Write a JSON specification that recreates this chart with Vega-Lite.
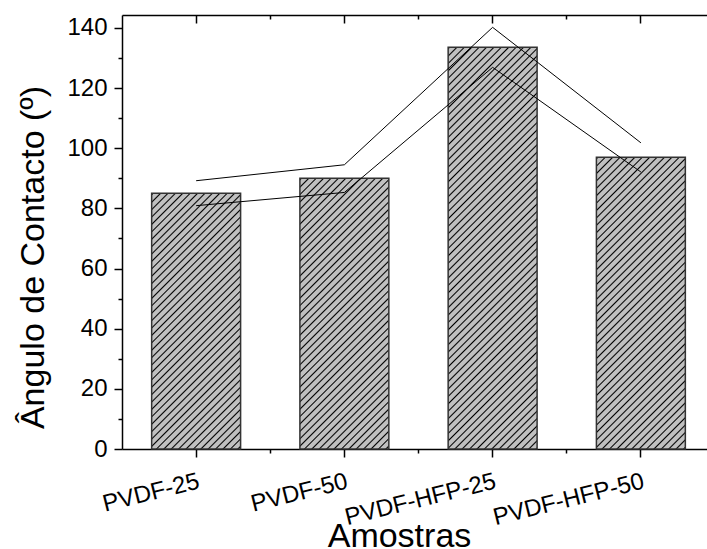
{
"$schema":"https://vega.github.io/schema/vega-lite/v6.json",
"autosize":"none","width":593,"height":434,
"padding":{"left":122,"top":15,"right":0,"bottom":100},
"background":"white",
"config":{"view":{"stroke":null},"axis":{"labelFont":"Liberation Sans","titleFont":"Liberation Sans","labelColor":"#000","titleColor":"#000","tickColor":"#000","domainColor":"#000","grid":false,"titleFontWeight":"normal","domainWidth":1.5,"tickWidth":1.5,"labelFontSize":24,"titleFontSize":34,"labelOverlap":false,"labelLimit":0}},
"data":{"values":[
{"s":"PVDF-25","v":85,"up":89.2,"lo":80.9},
{"s":"PVDF-50","v":90,"up":94.5,"lo":85.3},
{"s":"PVDF-HFP-25","v":133.6,"up":140.2,"lo":126.9},
{"s":"PVDF-HFP-50","v":97,"up":101.8,"lo":92.1}]},
"resolve":{"axis":{"x":"independent","y":"independent"}},
"layer":[
{"mark":{"type":"bar","stroke":"#333","strokeWidth":1.5},
"encoding":{
"x":{"field":"s","type":"nominal","sort":null,"scale":{"type":"band","paddingInner":0.4,"paddingOuter":0.2},
"axis":{"orient":"bottom","title":"Amostras","bandPosition":0.5,"labelAngle":-14,"labelAlign":"right","labelBaseline":"top","labelPadding":12,"tickSize":8,"titleX":277,"titleY":97,"titleBaseline":"alphabetic","titleAlign":"center","titleAnchor":null}},
"y":{"field":"v","type":"quantitative","scale":{"domain":[0,144.3],"nice":false},
"axis":{"orient":"left","values":[0,20,40,60,80,100,120,140],"title":"Ângulo de Contacto (º)","labelPadding":7,"tickSize":8,"titleAngle":-90,"titleX":-78.7,"titleY":242,"titleBaseline":"alphabetic","titleAlign":"center","titleAnchor":null}},
"fill":{"condition":[
{"test":"datum.s==='PVDF-25'","value":{"gradient":"linear","x1":0,"y1":0,"x2":0.8984,"y2":2.582,"stops":[
{"offset":0,"color":"silver"},{"offset":0.002,"color":"#000"},{"offset":0.004,"color":"silver"},
{"offset":0.01,"color":"silver"},{"offset":0.012,"color":"#000"},{"offset":0.014,"color":"silver"},
{"offset":0.02,"color":"silver"},{"offset":0.022,"color":"#000"},{"offset":0.024,"color":"silver"},
{"offset":0.03,"color":"silver"},{"offset":0.032,"color":"#000"},{"offset":0.034,"color":"silver"},
{"offset":0.04,"color":"silver"},{"offset":0.042,"color":"#000"},{"offset":0.044,"color":"silver"},
{"offset":0.05,"color":"silver"},{"offset":0.052,"color":"#000"},{"offset":0.054,"color":"silver"},
{"offset":0.06,"color":"silver"},{"offset":0.062,"color":"#000"},{"offset":0.064,"color":"silver"},
{"offset":0.07,"color":"silver"},{"offset":0.072,"color":"#000"},{"offset":0.074,"color":"silver"},
{"offset":0.08,"color":"silver"},{"offset":0.082,"color":"#000"},{"offset":0.084,"color":"silver"},
{"offset":0.09,"color":"silver"},{"offset":0.092,"color":"#000"},{"offset":0.094,"color":"silver"},
{"offset":0.1,"color":"silver"},{"offset":0.102,"color":"#000"},{"offset":0.104,"color":"silver"},
{"offset":0.11,"color":"silver"},{"offset":0.112,"color":"#000"},{"offset":0.114,"color":"silver"},
{"offset":0.12,"color":"silver"},{"offset":0.122,"color":"#000"},{"offset":0.124,"color":"silver"},
{"offset":0.13,"color":"silver"},{"offset":0.132,"color":"#000"},{"offset":0.134,"color":"silver"},
{"offset":0.14,"color":"silver"},{"offset":0.142,"color":"#000"},{"offset":0.144,"color":"silver"},
{"offset":0.15,"color":"silver"},{"offset":0.152,"color":"#000"},{"offset":0.154,"color":"silver"},
{"offset":0.16,"color":"silver"},{"offset":0.162,"color":"#000"},{"offset":0.164,"color":"silver"},
{"offset":0.17,"color":"silver"},{"offset":0.172,"color":"#000"},{"offset":0.174,"color":"silver"},
{"offset":0.18,"color":"silver"},{"offset":0.182,"color":"#000"},{"offset":0.184,"color":"silver"},
{"offset":0.19,"color":"silver"},{"offset":0.192,"color":"#000"},{"offset":0.194,"color":"silver"},
{"offset":0.2,"color":"silver"},{"offset":0.202,"color":"#000"},{"offset":0.204,"color":"silver"},
{"offset":0.21,"color":"silver"},{"offset":0.212,"color":"#000"},{"offset":0.214,"color":"silver"},
{"offset":0.22,"color":"silver"},{"offset":0.222,"color":"#000"},{"offset":0.224,"color":"silver"},
{"offset":0.23,"color":"silver"},{"offset":0.232,"color":"#000"},{"offset":0.234,"color":"silver"},
{"offset":0.24,"color":"silver"},{"offset":0.242,"color":"#000"},{"offset":0.244,"color":"silver"},
{"offset":0.25,"color":"silver"},{"offset":0.252,"color":"#000"},{"offset":0.254,"color":"silver"},
{"offset":0.26,"color":"silver"},{"offset":0.262,"color":"#000"},{"offset":0.264,"color":"silver"},
{"offset":0.27,"color":"silver"},{"offset":0.272,"color":"#000"},{"offset":0.274,"color":"silver"},
{"offset":0.28,"color":"silver"},{"offset":0.282,"color":"#000"},{"offset":0.284,"color":"silver"},
{"offset":0.29,"color":"silver"},{"offset":0.292,"color":"#000"},{"offset":0.294,"color":"silver"},
{"offset":0.3,"color":"silver"},{"offset":0.302,"color":"#000"},{"offset":0.304,"color":"silver"},
{"offset":0.31,"color":"silver"},{"offset":0.312,"color":"#000"},{"offset":0.314,"color":"silver"},
{"offset":0.32,"color":"silver"},{"offset":0.322,"color":"#000"},{"offset":0.324,"color":"silver"},
{"offset":0.33,"color":"silver"},{"offset":0.332,"color":"#000"},{"offset":0.334,"color":"silver"},
{"offset":0.34,"color":"silver"},{"offset":0.342,"color":"#000"},{"offset":0.344,"color":"silver"},
{"offset":0.35,"color":"silver"},{"offset":0.352,"color":"#000"},{"offset":0.354,"color":"silver"},
{"offset":0.36,"color":"silver"},{"offset":0.362,"color":"#000"},{"offset":0.364,"color":"silver"},
{"offset":0.37,"color":"silver"},{"offset":0.372,"color":"#000"},{"offset":0.374,"color":"silver"},
{"offset":0.38,"color":"silver"},{"offset":0.382,"color":"#000"},{"offset":0.384,"color":"silver"},
{"offset":0.39,"color":"silver"},{"offset":0.392,"color":"#000"},{"offset":0.394,"color":"silver"},
{"offset":0.4,"color":"silver"},{"offset":0.402,"color":"#000"},{"offset":0.404,"color":"silver"},
{"offset":0.41,"color":"silver"},{"offset":0.412,"color":"#000"},{"offset":0.414,"color":"silver"},
{"offset":0.42,"color":"silver"},{"offset":0.422,"color":"#000"},{"offset":0.424,"color":"silver"},
{"offset":0.43,"color":"silver"},{"offset":0.432,"color":"#000"},{"offset":0.434,"color":"silver"},
{"offset":0.44,"color":"silver"},{"offset":0.442,"color":"#000"},{"offset":0.444,"color":"silver"},
{"offset":0.45,"color":"silver"},{"offset":0.452,"color":"#000"},{"offset":0.454,"color":"silver"},
{"offset":0.46,"color":"silver"},{"offset":0.462,"color":"#000"},{"offset":0.464,"color":"silver"}]}},
{"test":"datum.s==='PVDF-50'","value":{"gradient":"linear","x1":0,"y1":0,"x2":0.8108,"y2":2.4673,"stops":[
{"offset":0,"color":"silver"},{"offset":0.002,"color":"#000"},{"offset":0.004,"color":"silver"},
{"offset":0.01,"color":"silver"},{"offset":0.012,"color":"#000"},{"offset":0.014,"color":"silver"},
{"offset":0.02,"color":"silver"},{"offset":0.022,"color":"#000"},{"offset":0.024,"color":"silver"},
{"offset":0.03,"color":"silver"},{"offset":0.032,"color":"#000"},{"offset":0.034,"color":"silver"},
{"offset":0.04,"color":"silver"},{"offset":0.042,"color":"#000"},{"offset":0.044,"color":"silver"},
{"offset":0.05,"color":"silver"},{"offset":0.052,"color":"#000"},{"offset":0.054,"color":"silver"},
{"offset":0.06,"color":"silver"},{"offset":0.062,"color":"#000"},{"offset":0.064,"color":"silver"},
{"offset":0.07,"color":"silver"},{"offset":0.072,"color":"#000"},{"offset":0.074,"color":"silver"},
{"offset":0.08,"color":"silver"},{"offset":0.082,"color":"#000"},{"offset":0.084,"color":"silver"},
{"offset":0.09,"color":"silver"},{"offset":0.092,"color":"#000"},{"offset":0.094,"color":"silver"},
{"offset":0.1,"color":"silver"},{"offset":0.102,"color":"#000"},{"offset":0.104,"color":"silver"},
{"offset":0.11,"color":"silver"},{"offset":0.112,"color":"#000"},{"offset":0.114,"color":"silver"},
{"offset":0.12,"color":"silver"},{"offset":0.122,"color":"#000"},{"offset":0.124,"color":"silver"},
{"offset":0.13,"color":"silver"},{"offset":0.132,"color":"#000"},{"offset":0.134,"color":"silver"},
{"offset":0.14,"color":"silver"},{"offset":0.142,"color":"#000"},{"offset":0.144,"color":"silver"},
{"offset":0.15,"color":"silver"},{"offset":0.152,"color":"#000"},{"offset":0.154,"color":"silver"},
{"offset":0.16,"color":"silver"},{"offset":0.162,"color":"#000"},{"offset":0.164,"color":"silver"},
{"offset":0.17,"color":"silver"},{"offset":0.172,"color":"#000"},{"offset":0.174,"color":"silver"},
{"offset":0.18,"color":"silver"},{"offset":0.182,"color":"#000"},{"offset":0.184,"color":"silver"},
{"offset":0.19,"color":"silver"},{"offset":0.192,"color":"#000"},{"offset":0.194,"color":"silver"},
{"offset":0.2,"color":"silver"},{"offset":0.202,"color":"#000"},{"offset":0.204,"color":"silver"},
{"offset":0.21,"color":"silver"},{"offset":0.212,"color":"#000"},{"offset":0.214,"color":"silver"},
{"offset":0.22,"color":"silver"},{"offset":0.222,"color":"#000"},{"offset":0.224,"color":"silver"},
{"offset":0.23,"color":"silver"},{"offset":0.232,"color":"#000"},{"offset":0.234,"color":"silver"},
{"offset":0.24,"color":"silver"},{"offset":0.242,"color":"#000"},{"offset":0.244,"color":"silver"},
{"offset":0.25,"color":"silver"},{"offset":0.252,"color":"#000"},{"offset":0.254,"color":"silver"},
{"offset":0.26,"color":"silver"},{"offset":0.262,"color":"#000"},{"offset":0.264,"color":"silver"},
{"offset":0.27,"color":"silver"},{"offset":0.272,"color":"#000"},{"offset":0.274,"color":"silver"},
{"offset":0.28,"color":"silver"},{"offset":0.282,"color":"#000"},{"offset":0.284,"color":"silver"},
{"offset":0.29,"color":"silver"},{"offset":0.292,"color":"#000"},{"offset":0.294,"color":"silver"},
{"offset":0.3,"color":"silver"},{"offset":0.302,"color":"#000"},{"offset":0.304,"color":"silver"},
{"offset":0.31,"color":"silver"},{"offset":0.312,"color":"#000"},{"offset":0.314,"color":"silver"},
{"offset":0.32,"color":"silver"},{"offset":0.322,"color":"#000"},{"offset":0.324,"color":"silver"},
{"offset":0.33,"color":"silver"},{"offset":0.332,"color":"#000"},{"offset":0.334,"color":"silver"},
{"offset":0.34,"color":"silver"},{"offset":0.342,"color":"#000"},{"offset":0.344,"color":"silver"},
{"offset":0.35,"color":"silver"},{"offset":0.352,"color":"#000"},{"offset":0.354,"color":"silver"},
{"offset":0.36,"color":"silver"},{"offset":0.362,"color":"#000"},{"offset":0.364,"color":"silver"},
{"offset":0.37,"color":"silver"},{"offset":0.372,"color":"#000"},{"offset":0.374,"color":"silver"},
{"offset":0.38,"color":"silver"},{"offset":0.382,"color":"#000"},{"offset":0.384,"color":"silver"},
{"offset":0.39,"color":"silver"},{"offset":0.392,"color":"#000"},{"offset":0.394,"color":"silver"},
{"offset":0.4,"color":"silver"},{"offset":0.402,"color":"#000"},{"offset":0.404,"color":"silver"},
{"offset":0.41,"color":"silver"},{"offset":0.412,"color":"#000"},{"offset":0.414,"color":"silver"},
{"offset":0.42,"color":"silver"},{"offset":0.422,"color":"#000"},{"offset":0.424,"color":"silver"},
{"offset":0.43,"color":"silver"},{"offset":0.432,"color":"#000"},{"offset":0.434,"color":"silver"},
{"offset":0.44,"color":"silver"},{"offset":0.442,"color":"#000"},{"offset":0.444,"color":"silver"},
{"offset":0.45,"color":"silver"},{"offset":0.452,"color":"#000"},{"offset":0.454,"color":"silver"},
{"offset":0.46,"color":"silver"},{"offset":0.462,"color":"#000"},{"offset":0.464,"color":"silver"},
{"offset":0.47,"color":"silver"},{"offset":0.472,"color":"#000"},{"offset":0.474,"color":"silver"},
{"offset":0.48,"color":"silver"},{"offset":0.482,"color":"#000"},{"offset":0.484,"color":"silver"}]}},
{"test":"datum.s==='PVDF-HFP-25'","value":{"gradient":"linear","x1":0,"y1":0,"x2":0.3886,"y2":1.7556,"stops":[
{"offset":0,"color":"silver"},{"offset":0.002,"color":"#000"},{"offset":0.004,"color":"silver"},
{"offset":0.01,"color":"silver"},{"offset":0.012,"color":"#000"},{"offset":0.014,"color":"silver"},
{"offset":0.02,"color":"silver"},{"offset":0.022,"color":"#000"},{"offset":0.024,"color":"silver"},
{"offset":0.03,"color":"silver"},{"offset":0.032,"color":"#000"},{"offset":0.034,"color":"silver"},
{"offset":0.04,"color":"silver"},{"offset":0.042,"color":"#000"},{"offset":0.044,"color":"silver"},
{"offset":0.05,"color":"silver"},{"offset":0.052,"color":"#000"},{"offset":0.054,"color":"silver"},
{"offset":0.06,"color":"silver"},{"offset":0.062,"color":"#000"},{"offset":0.064,"color":"silver"},
{"offset":0.07,"color":"silver"},{"offset":0.072,"color":"#000"},{"offset":0.074,"color":"silver"},
{"offset":0.08,"color":"silver"},{"offset":0.082,"color":"#000"},{"offset":0.084,"color":"silver"},
{"offset":0.09,"color":"silver"},{"offset":0.092,"color":"#000"},{"offset":0.094,"color":"silver"},
{"offset":0.1,"color":"silver"},{"offset":0.102,"color":"#000"},{"offset":0.104,"color":"silver"},
{"offset":0.11,"color":"silver"},{"offset":0.112,"color":"#000"},{"offset":0.114,"color":"silver"},
{"offset":0.12,"color":"silver"},{"offset":0.122,"color":"#000"},{"offset":0.124,"color":"silver"},
{"offset":0.13,"color":"silver"},{"offset":0.132,"color":"#000"},{"offset":0.134,"color":"silver"},
{"offset":0.14,"color":"silver"},{"offset":0.142,"color":"#000"},{"offset":0.144,"color":"silver"},
{"offset":0.15,"color":"silver"},{"offset":0.152,"color":"#000"},{"offset":0.154,"color":"silver"},
{"offset":0.16,"color":"silver"},{"offset":0.162,"color":"#000"},{"offset":0.164,"color":"silver"},
{"offset":0.17,"color":"silver"},{"offset":0.172,"color":"#000"},{"offset":0.174,"color":"silver"},
{"offset":0.18,"color":"silver"},{"offset":0.182,"color":"#000"},{"offset":0.184,"color":"silver"},
{"offset":0.19,"color":"silver"},{"offset":0.192,"color":"#000"},{"offset":0.194,"color":"silver"},
{"offset":0.2,"color":"silver"},{"offset":0.202,"color":"#000"},{"offset":0.204,"color":"silver"},
{"offset":0.21,"color":"silver"},{"offset":0.212,"color":"#000"},{"offset":0.214,"color":"silver"},
{"offset":0.22,"color":"silver"},{"offset":0.222,"color":"#000"},{"offset":0.224,"color":"silver"},
{"offset":0.23,"color":"silver"},{"offset":0.232,"color":"#000"},{"offset":0.234,"color":"silver"},
{"offset":0.24,"color":"silver"},{"offset":0.242,"color":"#000"},{"offset":0.244,"color":"silver"},
{"offset":0.25,"color":"silver"},{"offset":0.252,"color":"#000"},{"offset":0.254,"color":"silver"},
{"offset":0.26,"color":"silver"},{"offset":0.262,"color":"#000"},{"offset":0.264,"color":"silver"},
{"offset":0.27,"color":"silver"},{"offset":0.272,"color":"#000"},{"offset":0.274,"color":"silver"},
{"offset":0.28,"color":"silver"},{"offset":0.282,"color":"#000"},{"offset":0.284,"color":"silver"},
{"offset":0.29,"color":"silver"},{"offset":0.292,"color":"#000"},{"offset":0.294,"color":"silver"},
{"offset":0.3,"color":"silver"},{"offset":0.302,"color":"#000"},{"offset":0.304,"color":"silver"},
{"offset":0.31,"color":"silver"},{"offset":0.312,"color":"#000"},{"offset":0.314,"color":"silver"},
{"offset":0.32,"color":"silver"},{"offset":0.322,"color":"#000"},{"offset":0.324,"color":"silver"},
{"offset":0.33,"color":"silver"},{"offset":0.332,"color":"#000"},{"offset":0.334,"color":"silver"},
{"offset":0.34,"color":"silver"},{"offset":0.342,"color":"#000"},{"offset":0.344,"color":"silver"},
{"offset":0.35,"color":"silver"},{"offset":0.352,"color":"#000"},{"offset":0.354,"color":"silver"},
{"offset":0.36,"color":"silver"},{"offset":0.362,"color":"#000"},{"offset":0.364,"color":"silver"},
{"offset":0.37,"color":"silver"},{"offset":0.372,"color":"#000"},{"offset":0.374,"color":"silver"},
{"offset":0.38,"color":"silver"},{"offset":0.382,"color":"#000"},{"offset":0.384,"color":"silver"},
{"offset":0.39,"color":"silver"},{"offset":0.392,"color":"#000"},{"offset":0.394,"color":"silver"},
{"offset":0.4,"color":"silver"},{"offset":0.402,"color":"#000"},{"offset":0.404,"color":"silver"},
{"offset":0.41,"color":"silver"},{"offset":0.412,"color":"#000"},{"offset":0.414,"color":"silver"},
{"offset":0.42,"color":"silver"},{"offset":0.422,"color":"#000"},{"offset":0.424,"color":"silver"},
{"offset":0.43,"color":"silver"},{"offset":0.432,"color":"#000"},{"offset":0.434,"color":"silver"},
{"offset":0.44,"color":"silver"},{"offset":0.442,"color":"#000"},{"offset":0.444,"color":"silver"},
{"offset":0.45,"color":"silver"},{"offset":0.452,"color":"#000"},{"offset":0.454,"color":"silver"},
{"offset":0.46,"color":"silver"},{"offset":0.462,"color":"#000"},{"offset":0.464,"color":"silver"},
{"offset":0.47,"color":"silver"},{"offset":0.472,"color":"#000"},{"offset":0.474,"color":"silver"},
{"offset":0.48,"color":"silver"},{"offset":0.482,"color":"#000"},{"offset":0.484,"color":"silver"},
{"offset":0.49,"color":"silver"},{"offset":0.492,"color":"#000"},{"offset":0.494,"color":"silver"},
{"offset":0.5,"color":"silver"},{"offset":0.502,"color":"#000"},{"offset":0.504,"color":"silver"},
{"offset":0.51,"color":"silver"},{"offset":0.512,"color":"#000"},{"offset":0.514,"color":"silver"},
{"offset":0.52,"color":"silver"},{"offset":0.522,"color":"#000"},{"offset":0.524,"color":"silver"},
{"offset":0.53,"color":"silver"},{"offset":0.532,"color":"#000"},{"offset":0.534,"color":"silver"},
{"offset":0.54,"color":"silver"},{"offset":0.542,"color":"#000"},{"offset":0.544,"color":"silver"},
{"offset":0.55,"color":"silver"},{"offset":0.552,"color":"#000"},{"offset":0.554,"color":"silver"},
{"offset":0.56,"color":"silver"},{"offset":0.562,"color":"#000"},{"offset":0.564,"color":"silver"},
{"offset":0.57,"color":"silver"},{"offset":0.572,"color":"#000"},{"offset":0.574,"color":"silver"},
{"offset":0.58,"color":"silver"},{"offset":0.582,"color":"#000"},{"offset":0.584,"color":"silver"},
{"offset":0.59,"color":"silver"},{"offset":0.592,"color":"#000"},{"offset":0.594,"color":"silver"},
{"offset":0.6,"color":"silver"},{"offset":0.602,"color":"#000"},{"offset":0.604,"color":"silver"},
{"offset":0.61,"color":"silver"},{"offset":0.612,"color":"#000"},{"offset":0.614,"color":"silver"},
{"offset":0.62,"color":"silver"},{"offset":0.622,"color":"#000"},{"offset":0.624,"color":"silver"},
{"offset":0.63,"color":"silver"},{"offset":0.632,"color":"#000"},{"offset":0.634,"color":"silver"},
{"offset":0.64,"color":"silver"},{"offset":0.642,"color":"#000"},{"offset":0.644,"color":"silver"},
{"offset":0.65,"color":"silver"},{"offset":0.652,"color":"#000"},{"offset":0.654,"color":"silver"},
{"offset":0.66,"color":"silver"},{"offset":0.662,"color":"#000"},{"offset":0.664,"color":"silver"}]}}],
"value":{"gradient":"linear","x1":0,"y1":0,"x2":0.7076,"y2":2.3208,"stops":[
{"offset":0,"color":"silver"},{"offset":0.002,"color":"#000"},{"offset":0.004,"color":"silver"},
{"offset":0.01,"color":"silver"},{"offset":0.012,"color":"#000"},{"offset":0.014,"color":"silver"},
{"offset":0.02,"color":"silver"},{"offset":0.022,"color":"#000"},{"offset":0.024,"color":"silver"},
{"offset":0.03,"color":"silver"},{"offset":0.032,"color":"#000"},{"offset":0.034,"color":"silver"},
{"offset":0.04,"color":"silver"},{"offset":0.042,"color":"#000"},{"offset":0.044,"color":"silver"},
{"offset":0.05,"color":"silver"},{"offset":0.052,"color":"#000"},{"offset":0.054,"color":"silver"},
{"offset":0.06,"color":"silver"},{"offset":0.062,"color":"#000"},{"offset":0.064,"color":"silver"},
{"offset":0.07,"color":"silver"},{"offset":0.072,"color":"#000"},{"offset":0.074,"color":"silver"},
{"offset":0.08,"color":"silver"},{"offset":0.082,"color":"#000"},{"offset":0.084,"color":"silver"},
{"offset":0.09,"color":"silver"},{"offset":0.092,"color":"#000"},{"offset":0.094,"color":"silver"},
{"offset":0.1,"color":"silver"},{"offset":0.102,"color":"#000"},{"offset":0.104,"color":"silver"},
{"offset":0.11,"color":"silver"},{"offset":0.112,"color":"#000"},{"offset":0.114,"color":"silver"},
{"offset":0.12,"color":"silver"},{"offset":0.122,"color":"#000"},{"offset":0.124,"color":"silver"},
{"offset":0.13,"color":"silver"},{"offset":0.132,"color":"#000"},{"offset":0.134,"color":"silver"},
{"offset":0.14,"color":"silver"},{"offset":0.142,"color":"#000"},{"offset":0.144,"color":"silver"},
{"offset":0.15,"color":"silver"},{"offset":0.152,"color":"#000"},{"offset":0.154,"color":"silver"},
{"offset":0.16,"color":"silver"},{"offset":0.162,"color":"#000"},{"offset":0.164,"color":"silver"},
{"offset":0.17,"color":"silver"},{"offset":0.172,"color":"#000"},{"offset":0.174,"color":"silver"},
{"offset":0.18,"color":"silver"},{"offset":0.182,"color":"#000"},{"offset":0.184,"color":"silver"},
{"offset":0.19,"color":"silver"},{"offset":0.192,"color":"#000"},{"offset":0.194,"color":"silver"},
{"offset":0.2,"color":"silver"},{"offset":0.202,"color":"#000"},{"offset":0.204,"color":"silver"},
{"offset":0.21,"color":"silver"},{"offset":0.212,"color":"#000"},{"offset":0.214,"color":"silver"},
{"offset":0.22,"color":"silver"},{"offset":0.222,"color":"#000"},{"offset":0.224,"color":"silver"},
{"offset":0.23,"color":"silver"},{"offset":0.232,"color":"#000"},{"offset":0.234,"color":"silver"},
{"offset":0.24,"color":"silver"},{"offset":0.242,"color":"#000"},{"offset":0.244,"color":"silver"},
{"offset":0.25,"color":"silver"},{"offset":0.252,"color":"#000"},{"offset":0.254,"color":"silver"},
{"offset":0.26,"color":"silver"},{"offset":0.262,"color":"#000"},{"offset":0.264,"color":"silver"},
{"offset":0.27,"color":"silver"},{"offset":0.272,"color":"#000"},{"offset":0.274,"color":"silver"},
{"offset":0.28,"color":"silver"},{"offset":0.282,"color":"#000"},{"offset":0.284,"color":"silver"},
{"offset":0.29,"color":"silver"},{"offset":0.292,"color":"#000"},{"offset":0.294,"color":"silver"},
{"offset":0.3,"color":"silver"},{"offset":0.302,"color":"#000"},{"offset":0.304,"color":"silver"},
{"offset":0.31,"color":"silver"},{"offset":0.312,"color":"#000"},{"offset":0.314,"color":"silver"},
{"offset":0.32,"color":"silver"},{"offset":0.322,"color":"#000"},{"offset":0.324,"color":"silver"},
{"offset":0.33,"color":"silver"},{"offset":0.332,"color":"#000"},{"offset":0.334,"color":"silver"},
{"offset":0.34,"color":"silver"},{"offset":0.342,"color":"#000"},{"offset":0.344,"color":"silver"},
{"offset":0.35,"color":"silver"},{"offset":0.352,"color":"#000"},{"offset":0.354,"color":"silver"},
{"offset":0.36,"color":"silver"},{"offset":0.362,"color":"#000"},{"offset":0.364,"color":"silver"},
{"offset":0.37,"color":"silver"},{"offset":0.372,"color":"#000"},{"offset":0.374,"color":"silver"},
{"offset":0.38,"color":"silver"},{"offset":0.382,"color":"#000"},{"offset":0.384,"color":"silver"},
{"offset":0.39,"color":"silver"},{"offset":0.392,"color":"#000"},{"offset":0.394,"color":"silver"},
{"offset":0.4,"color":"silver"},{"offset":0.402,"color":"#000"},{"offset":0.404,"color":"silver"},
{"offset":0.41,"color":"silver"},{"offset":0.412,"color":"#000"},{"offset":0.414,"color":"silver"},
{"offset":0.42,"color":"silver"},{"offset":0.422,"color":"#000"},{"offset":0.424,"color":"silver"},
{"offset":0.43,"color":"silver"},{"offset":0.432,"color":"#000"},{"offset":0.434,"color":"silver"},
{"offset":0.44,"color":"silver"},{"offset":0.442,"color":"#000"},{"offset":0.444,"color":"silver"},
{"offset":0.45,"color":"silver"},{"offset":0.452,"color":"#000"},{"offset":0.454,"color":"silver"},
{"offset":0.46,"color":"silver"},{"offset":0.462,"color":"#000"},{"offset":0.464,"color":"silver"},
{"offset":0.47,"color":"silver"},{"offset":0.472,"color":"#000"},{"offset":0.474,"color":"silver"},
{"offset":0.48,"color":"silver"},{"offset":0.482,"color":"#000"},{"offset":0.484,"color":"silver"},
{"offset":0.49,"color":"silver"},{"offset":0.492,"color":"#000"},{"offset":0.494,"color":"silver"},
{"offset":0.5,"color":"silver"},{"offset":0.502,"color":"#000"},{"offset":0.504,"color":"silver"},
{"offset":0.51,"color":"silver"},{"offset":0.512,"color":"#000"},{"offset":0.514,"color":"silver"}]}}}},
{"mark":{"type":"line","color":"#000","strokeWidth":1},
"encoding":{
"x":{"field":"s","type":"nominal","sort":null,"scale":{"type":"band","paddingInner":0.4,"paddingOuter":0.2},
"axis":{"orient":"top","bandPosition":0.5,"labels":false,"title":null,"tickSize":-8}},
"y":{"field":"up","type":"quantitative","scale":{"domain":[0,144.3],"nice":false},
"axis":{"orient":"right","values":[0,20,40,60,80,100,120,140],"labels":false,"title":null,"tickSize":-8}}}},
{"mark":{"type":"line","color":"#000","strokeWidth":1},
"encoding":{
"x":{"field":"s","type":"nominal","sort":null,"scale":{"type":"band","paddingInner":0.4,"paddingOuter":0.2},
"axis":{"orient":"bottom","bandPosition":1.3333,"values":["PVDF-25","PVDF-50","PVDF-HFP-25"],"labels":false,"domain":false,"title":null,"tickSize":4}},
"y":{"field":"lo","type":"quantitative","scale":{"domain":[0,144.3],"nice":false},
"axis":{"orient":"left","values":[10,30,50,70,90,110,130],"labels":false,"domain":false,"title":null,"tickSize":4}}}},
{"mark":{"type":"point","opacity":0},
"encoding":{
"x":{"field":"s","type":"nominal","sort":null,"scale":{"type":"band","paddingInner":0.4,"paddingOuter":0.2},
"axis":{"orient":"top","bandPosition":1.3333,"values":["PVDF-25","PVDF-50","PVDF-HFP-25"],"labels":false,"domain":false,"title":null,"tickSize":-4}},
"y":{"field":"lo","type":"quantitative","scale":{"domain":[0,144.3],"nice":false},"axis":null}}}
]}
